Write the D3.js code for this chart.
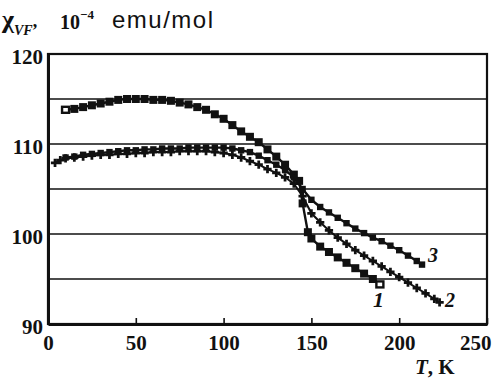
<!DOCTYPE html>
<html>
<head>
<meta charset="utf-8">
<script src="https://cdn.jsdelivr.net/npm/d3@7"></script>
<style>
  html, body { margin: 0; padding: 0; background: #fff; }
  svg { display: block; }
</style>
</head>
<body>
<svg id="chart" width="492" height="380"></svg>
<script>
// Temperature (K) and susceptibility (10^-4 emu/mol) for each sample
const tempsA = [10,15,20,25,30,35,40,45,50,55,60,65,70,75,80,85,90,95,100,105,110,115,120,125,130,135,140,143,145,148,150,155,160,165,170,175,180,185,189];
const chiA   = [113.8,113.9,114.1,114.3,114.5,114.7,114.9,115.0,115.0,115.0,114.9,114.9,114.8,114.6,114.4,114.1,113.8,113.3,112.8,112.1,111.4,110.8,110.2,109.4,108.6,107.7,106.6,105.9,103.4,100.2,99.5,98.6,98.0,97.4,96.8,96.2,95.6,95.0,94.4];

const tempsB = [4,7,10,15,20,25,30,35,40,45,50,55,60,65,70,75,80,85,90,95,100,105,110,115,120,125,130,135,140,145,150,155,160,165,170,175,180,185,190,195,200,205,210,215,220,223];
const chiB   = [107.9,108.2,108.4,108.5,108.6,108.7,108.8,108.8,108.9,108.9,109.0,109.0,109.1,109.1,109.1,109.2,109.2,109.2,109.2,109.1,109.0,108.8,108.5,108.1,107.7,107.2,106.8,106.3,105.6,104.2,102.3,101.3,100.4,99.6,98.9,98.2,97.6,97.0,96.4,95.8,95.2,94.6,94.0,93.4,92.8,92.4];

const tempsC = [10,15,20,25,30,35,40,45,50,55,60,65,70,75,80,85,90,95,100,105,110,115,120,125,130,135,140,145,150,155,160,165,170,175,180,185,190,195,200,205,210,213];
const chiC   = [108.5,108.6,108.8,108.9,109.0,109.1,109.2,109.3,109.3,109.4,109.4,109.5,109.5,109.5,109.6,109.6,109.6,109.6,109.6,109.5,109.3,109.1,108.7,108.2,107.7,107.1,106.3,105.0,103.8,103.0,102.4,101.8,101.2,100.6,100.1,99.6,99.2,98.7,98.2,97.6,97.0,96.6];

const xTicks = [0,50,100,150,200,250];
const yTickLabels = [90,100,110,120];
const gridValues = [95,100,105,110,115];

const svg = d3.select("#chart");
const x = d3.scaleLinear().domain([0, 250]).range([48, 487]);
const y = d3.scaleLinear().domain([90, 120]).range([324, 54]);

const zip = (ts, vs) => ts.map((t, i) => ({t, v: vs[i]}));
const A = zip(tempsA, chiA), B = zip(tempsB, chiB), C = zip(tempsC, chiC);

// horizontal grid
svg.append("g").selectAll("line").data(gridValues).join("line")
  .attr("x1", x(0)).attr("x2", x(250))
  .attr("y1", d => y(d)).attr("y2", d => y(d))
  .attr("stroke", "#111").attr("stroke-width", 1.6);

// frame
svg.append("rect")
  .attr("x", x(0)).attr("y", y(120))
  .attr("width", x(250) - x(0)).attr("height", y(90) - y(120))
  .attr("fill", "none").attr("stroke", "#111").attr("stroke-width", 2.2);

// x axis with inward ticks
const xAxis = svg.append("g")
  .attr("transform", `translate(0,${y(90)})`)
  .call(d3.axisBottom(x).tickValues(xTicks).tickSizeInner(-6).tickSizeOuter(0).tickPadding(11));
xAxis.select(".domain").attr("stroke", "#111").attr("stroke-width", 3);
xAxis.selectAll(".tick line").attr("stroke", "#111").attr("stroke-width", 1.6);
xAxis.selectAll("text")
  .attr("font-family", "Liberation Serif, serif").attr("font-weight", "bold")
  .attr("font-size", 21).attr("fill", "#111");
xAxis.selectAll(".tick").filter(d => d === 250).select("text")
  .attr("text-anchor", "end").attr("x", 4);

// y axis labels
const yAxis = svg.append("g")
  .attr("transform", `translate(${x(0)},0)`)
  .call(d3.axisLeft(y).tickValues(yTickLabels).tickSize(0).tickPadding(5));
yAxis.select(".domain").attr("stroke", "#111").attr("stroke-width", 3);
yAxis.selectAll("text")
  .attr("font-family", "Liberation Serif, serif").attr("font-weight", "bold")
  .attr("font-size", 21).attr("fill", "#111").attr("dy", "0.45em");

const line = d3.line().x(d => x(d.t)).y(d => y(d.v));

// curves
[[A, 2.4], [B, 2], [C, 2.4]].forEach(([data, w]) => {
  svg.append("path").datum(data)
    .attr("d", line).attr("fill", "none")
    .attr("stroke", "#111").attr("stroke-width", w);
});

// sample 1: large squares, open squares at the ends
svg.append("g").selectAll("rect").data(A.slice(1, -1)).join("rect")
  .attr("x", d => x(d.t) - 4).attr("y", d => y(d.v) - 4)
  .attr("width", 8).attr("height", 8).attr("fill", "#111");
svg.append("g").selectAll("rect").data([A[0], A[A.length - 1]]).join("rect")
  .attr("x", d => x(d.t) - 3.5).attr("y", d => y(d.v) - 3)
  .attr("width", 7).attr("height", 6)
  .attr("fill", "#fff").attr("stroke", "#111").attr("stroke-width", 2.4);

// sample 3: smaller squares
svg.append("g").selectAll("rect").data(C).join("rect")
  .attr("x", d => x(d.t) - 3.2).attr("y", d => y(d.v) - 3.2)
  .attr("width", 6.4).attr("height", 6.4).attr("fill", "#111");

// sample 2: crosses
const cross = d3.symbol().type(d3.symbolCross).size(38);
svg.append("g").selectAll("path").data(B).join("path")
  .attr("transform", d => `translate(${x(d.t)},${y(d.v)})`)
  .attr("d", cross).attr("fill", "#111");

// curve numbers
const labelFont = "Liberation Serif, serif";
[["1", 373, 307, 22], ["2", 445, 307, 20], ["3", 428, 262, 20]].forEach(([s, lx, ly, fs]) => {
  svg.append("text").attr("x", lx).attr("y", ly)
    .attr("font-family", labelFont).attr("font-style", "italic").attr("font-weight", "bold")
    .attr("font-size", fs).attr("fill", "#111").text(s);
});

// axis titles
const tt = svg.append("text").attr("x", 415).attr("y", 374)
  .attr("font-family", labelFont).attr("font-weight", "bold")
  .attr("font-size", 21).attr("fill", "#111");
tt.append("tspan").attr("font-style", "italic").text("T");
tt.append("tspan").text(", K");

const yt = svg.append("text").attr("x", 2).attr("y", 28).attr("fill", "#111")
  .attr("font-family", labelFont).attr("font-weight", "bold");
yt.append("tspan").style("font-size", "26px").text("χ");
yt.append("tspan").style("font-size", "14px").style("font-style", "italic")
  .attr("dy", 7).text("VF");
yt.append("tspan").style("font-size", "18px").attr("dy", -8).text(",");

svg.append("text").attr("x", 60).attr("y", 29)
  .attr("font-family", labelFont).attr("font-weight", "bold")
  .style("font-size", "20px").attr("fill", "#111").text("10");
svg.append("text").attr("x", 80).attr("y", 19)
  .attr("font-family", labelFont).attr("font-weight", "bold")
  .style("font-size", "13px").attr("fill", "#111").text("−4");
svg.append("text").attr("x", 112).attr("y", 28)
  .attr("font-family", "Liberation Sans, Arial, sans-serif")
  .style("font-size", "24px").attr("fill", "#111")
  .attr("textLength", 101).attr("lengthAdjust", "spacing")
  .text("emu/mol");
</script>
</body>
</html>
